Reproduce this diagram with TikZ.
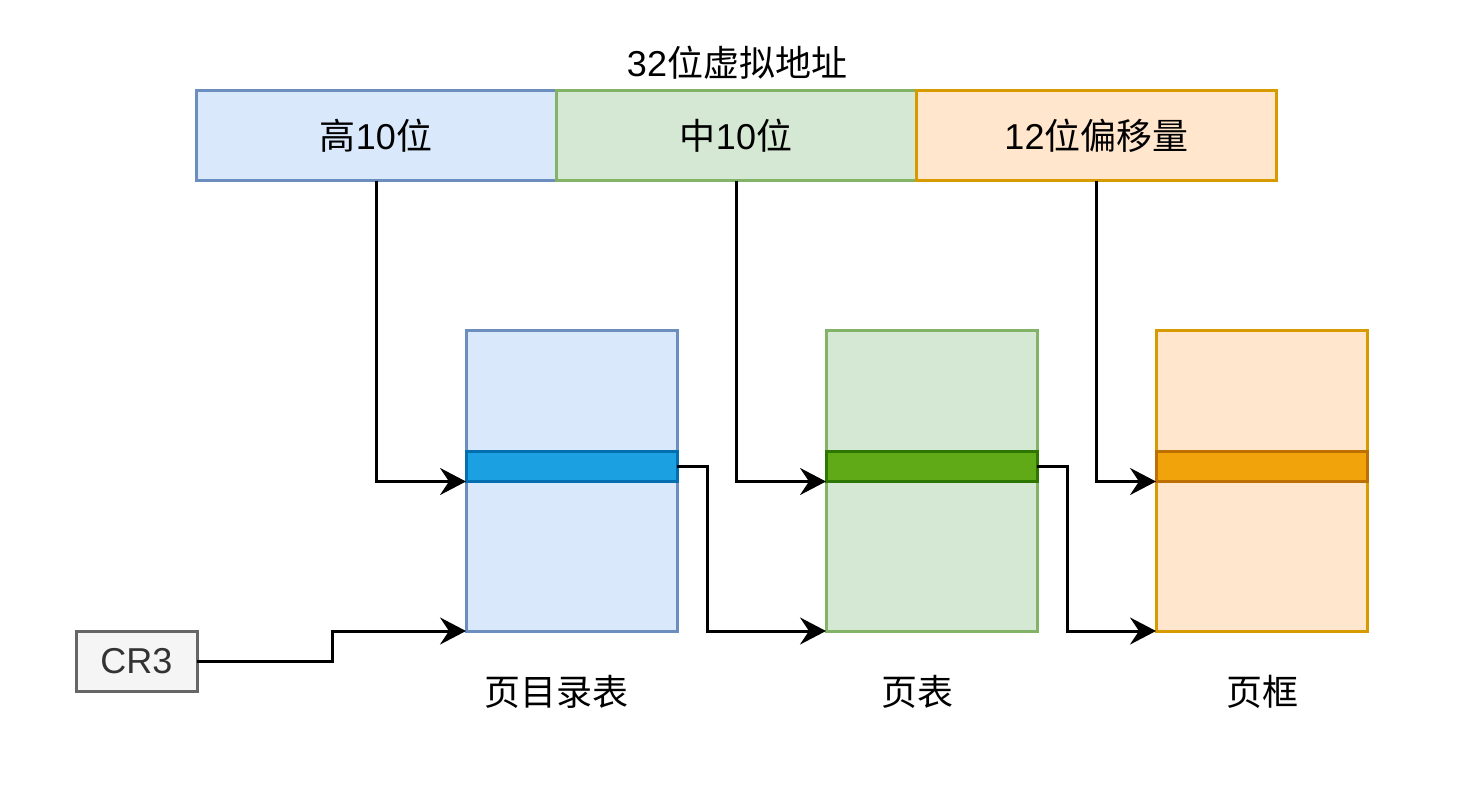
\documentclass[tikz,border=0pt]{standalone}
\usepackage{fontspec}
\setmainfont{Liberation Sans}
\newfontfamily\cjk{Noto Sans CJK SC}
\usetikzlibrary{arrows.meta}
\definecolor{bluefill}{HTML}{DAE8FC}
\definecolor{bluestroke}{HTML}{6C8EBF}
\definecolor{greenfill}{HTML}{D5E8D4}
\definecolor{greenstroke}{HTML}{82B366}
\definecolor{orangefill}{HTML}{FFE6CC}
\definecolor{orangestroke}{HTML}{D79B00}
\definecolor{bluestripe}{HTML}{1BA1E2}
\definecolor{bluestripestroke}{HTML}{006EAF}
\definecolor{greenstripe}{HTML}{60A917}
\definecolor{greenstripestroke}{HTML}{2D7600}
\definecolor{orangestripe}{HTML}{F0A30A}
\definecolor{orangestripestroke}{HTML}{BD7000}
\definecolor{grayfill}{HTML}{F5F5F5}
\definecolor{graystroke}{HTML}{666666}
\definecolor{graytext}{HTML}{333333}
\tikzset{
  box/.style={rectangle, draw, line width=3pt, inner sep=0pt, outer sep=0pt, font=\fontsize{36}{43}\selectfont},
  field/.style={box, minimum width=360pt, minimum height=90pt},
  table/.style={box, minimum width=211pt, minimum height=300pt},
  stripe/.style={box, minimum width=211pt, minimum height=30pt},
  lbl/.style={inner sep=0pt, font=\fontsize{36}{43}\selectfont},
  arr/.style={-{Stealth[length=26pt,width=27pt,inset=9pt]}, line width=3pt, black}
}
\begin{document}
\begin{tikzpicture}[x=1pt,y=-1pt]
\useasboundingbox (0,0) rectangle (1476,786);
\node[lbl] (title) at (737,63) {32{\cjk 位虚拟地址}};
\node[field, fill=bluefill, draw=bluestroke] (hi) at (376,136) {{\cjk 高}10{\cjk 位}};
\node[field, fill=greenfill, draw=greenstroke] (mid) at (736,136) {{\cjk 中}10{\cjk 位}};
\node[field, fill=orangefill, draw=orangestroke] (off) at (1096.5,136) {12{\cjk 位偏移量}};
\node[table, fill=bluefill, draw=bluestroke] (pd) at (571.5,481) {};
\node[table, fill=greenfill, draw=greenstroke] (pt) at (931.5,481) {};
\node[table, fill=orangefill, draw=orangestroke] (pf) at (1261.5,481) {};
\node[stripe, fill=bluestripe, draw=bluestripestroke] (s1) at (571.5,466.5) {};
\node[stripe, fill=greenstripe, draw=greenstripestroke] (s2) at (931.5,466.5) {};
\node[stripe, fill=orangestripe, draw=orangestripestroke] (s3) at (1261.5,466.5) {};
\node[box, minimum width=121pt, minimum height=60pt, fill=grayfill, draw=graystroke, text=graytext] (cr3) at (136.5,661) {CR3};
\node[lbl] (l1) at (556,692) {\cjk 页目录表};
\node[lbl] (l2) at (917,692) {\cjk 页表};
\node[lbl] (l3) at (1262,692) {\cjk 页框};
\draw[arr] (hi.south) |- (s1.south west);
\draw[arr] (mid.south) |- (s2.south west);
\draw[arr] (off.south) |- (s3.south west);
\draw[arr] (s1.east) -- ++(30,0) |- (pt.south west);
\draw[arr] (s2.east) -- ++(30,0) |- (pf.south west);
\draw[arr] (cr3.east) -- ++(135,0) |- (pd.south west);
\end{tikzpicture}
\end{document}
